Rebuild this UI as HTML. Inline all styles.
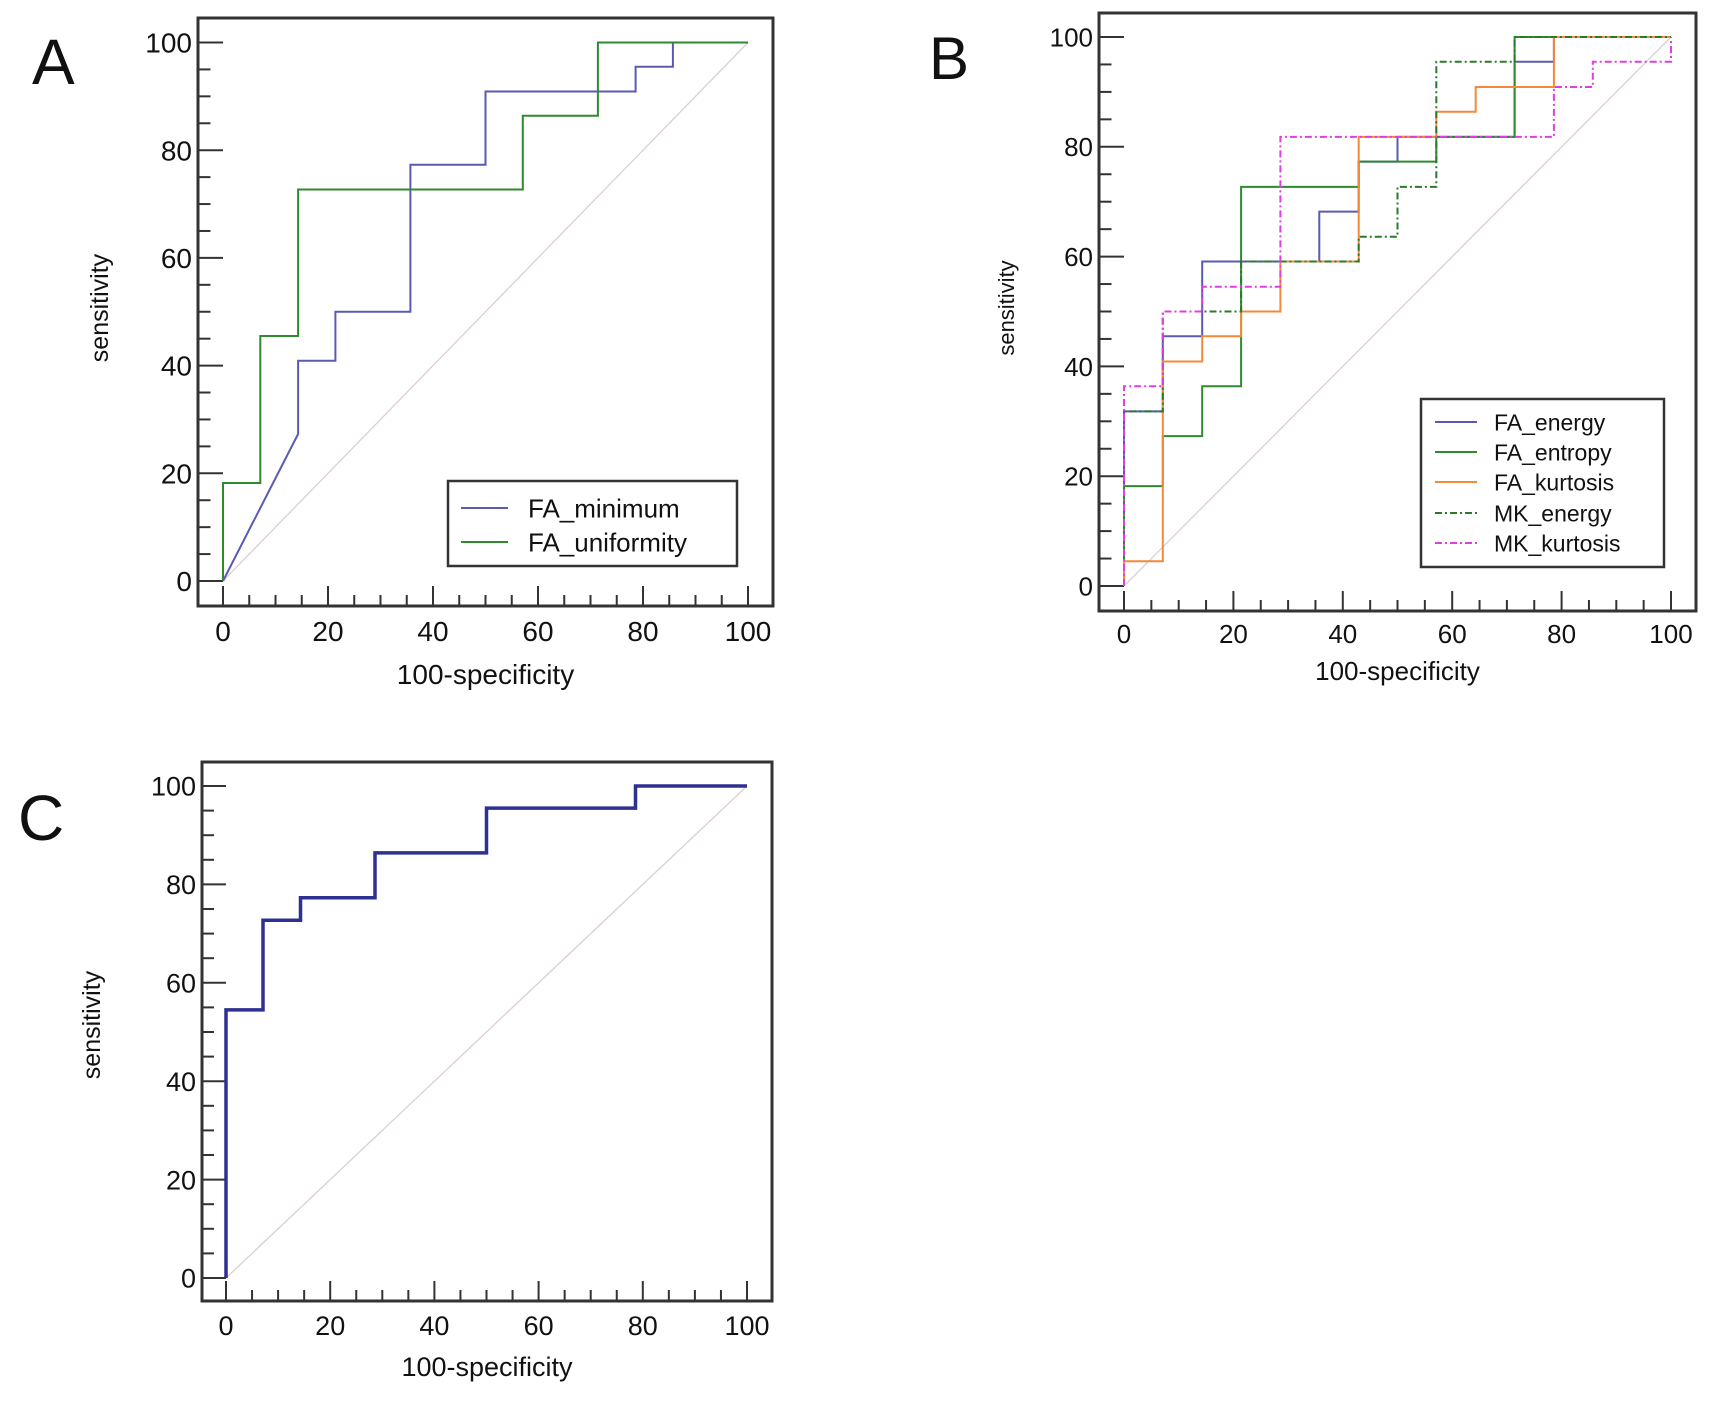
<!DOCTYPE html>
<html><head><meta charset="utf-8">
<style>
html,body{margin:0;padding:0;background:#fff;}
svg{display:block;}
text{font-family:"Liberation Sans",Arial,sans-serif;fill:#111;}
</style></head>
<body>
<svg id="fig" width="1726" height="1403" viewBox="0 0 1726 1403"></svg>
<script>
// ---------- data ----------
const xTickLabels = [0,20,40,60,80,100];
const yTickLabels = [0,20,40,60,80,100];
// Panel A
const aMinX = [0,14.3,14.3,21.4,21.4,35.7,35.7,50,50,78.6,78.6,85.7,85.7,100];
const aMinY = [0,27.3,40.9,40.9,50,50,77.3,77.3,90.9,90.9,95.5,95.5,100,100];
const aUniX = [0,0,7.1,7.1,14.3,14.3,57.1,57.1,71.4,71.4,100];
const aUniY = [0,18.2,18.2,45.5,45.5,72.7,72.7,86.4,86.4,100,100];
// Panel B
const bEnX = [0,0,7.1,7.1,14.3,14.3,35.7,35.7,42.9,42.9,50,50,71.4,71.4,78.6,78.6,100];
const bEnY = [0,31.8,31.8,45.5,45.5,59.1,59.1,68.2,68.2,77.3,77.3,81.8,81.8,95.5,95.5,100,100];
const bEtX = [0,0,7.1,7.1,14.3,14.3,21.4,21.4,42.9,42.9,57.1,57.1,71.4,71.4,100];
const bEtY = [0,18.2,18.2,27.3,27.3,36.4,36.4,72.7,72.7,77.3,77.3,81.8,81.8,100,100];
const bKuX = [0,0,7.1,7.1,14.3,14.3,21.4,21.4,28.6,28.6,42.9,42.9,57.1,57.1,64.3,64.3,78.6,78.6,100];
const bKuY = [0,4.5,4.5,40.9,40.9,45.5,45.5,50,50,59.1,59.1,81.8,81.8,86.4,86.4,90.9,90.9,100,100];
const bMEX = [0,0,7.1,7.1,21.4,21.4,42.9,42.9,50,50,57.1,57.1,71.4,71.4,100];
const bMEY = [0,31.8,31.8,50,50,59.1,59.1,63.6,63.6,72.7,72.7,95.5,95.5,100,100];
const bMKX = [0,0,7.1,7.1,14.3,14.3,28.6,28.6,78.6,78.6,85.7,85.7,100,100];
const bMKY = [0,36.4,36.4,50,50,54.5,54.5,81.8,81.8,90.9,90.9,95.5,95.5,100];
// Panel C
const cX = [0,0,7.1,7.1,14.3,14.3,28.6,28.6,50,50,78.6,78.6,100];
const cY = [0,54.5,54.5,72.7,72.7,77.3,77.3,86.4,86.4,95.5,95.5,100,100];

// ---------- drawing ----------
const NS='http://www.w3.org/2000/svg';
const svg=document.getElementById('fig');
function mk(tag,attrs,parent){const e=document.createElementNS(NS,tag);for(const k in attrs)e.setAttribute(k,attrs[k]);(parent||svg).appendChild(e);return e;}

function panel(p){
  const g=mk('g',{});
  
  
  const sx=v=>p.x0+(p.x100-p.x0)*v/100;
  const sy=v=>p.y0+(p.y100-p.y0)*v/100;
  const L=mk('text',{x:p.lx,y:p.ly,'font-size':p.lfs},g);L.textContent=p.letter;
  
  
  const d=mk('line',{x1:sx(0),y1:sy(0),x2:sx(100),y2:sy(100),stroke:'#dccfd2','stroke-width':1.3},g);
  
  
  for(let v=0;v<=100;v+=5){
    const maj=v%20===0;
    const yy=sy(v);
    const t=mk('line',{x1:p.fl,y1:yy,x2:p.fl+(maj?(p.x0-p.fl):(p.x0-p.fl)*0.5),y2:yy,stroke:'#333','stroke-width':2},g);
    
    
    const xx=sx(v);
    const t2=mk('line',{x1:xx,y1:p.fb,x2:xx,y2:p.fb-(maj?p.tl:p.tl*0.55),stroke:'#333','stroke-width':2},g);
    
    
  }
  yTickLabels.forEach(v=>{
    const t=mk('text',{x:p.fl-6,y:sy(v)+p.tfs*0.36,'font-size':p.tfs,'text-anchor':'end'},g);t.textContent=v;
    
    
  });
  xTickLabels.forEach(v=>{
    const t=mk('text',{x:sx(v),y:p.xly,'font-size':p.tfs,'text-anchor':'middle'},g);t.textContent=v;
    
    
  });
  const xt=mk('text',{x:(p.fl+p.fr)/2,y:p.xty,'font-size':p.tfs,'text-anchor':'middle'},g);xt.textContent='100-specificity';
  
  
  const yt=mk('text',{x:0,y:0,'font-size':p.yfs,'text-anchor':'middle',transform:`translate(${p.ytx},${p.yty}) rotate(-90)`},g);yt.textContent='sensitivity';
  
  
  p.series.forEach(s=>{
    const pts=s.xs.map((x,i)=>sx(x).toFixed(1)+','+sy(s.ys[i]).toFixed(1)).join(' ');
    const a={points:pts,fill:'none',stroke:s.color,'stroke-width':s.w||2};
    if(s.dash)a['stroke-dasharray']=s.dash;
    const pl=mk('polyline',a,g);
    
    
  });
  const fr=mk('rect',{x:p.fl,y:p.ft,width:p.fr-p.fl,height:p.fb-p.ft,fill:'none',stroke:'#333','stroke-width':3},g);
  
  
  if(p.legend){
    const lg=p.legend;
    const lgG=mk('g',{},g);
    
    
    mk('rect',{x:lg.x,y:lg.y,width:lg.w,height:lg.h,fill:'#fff',stroke:'#333','stroke-width':2.5},lgG);
    p.series.forEach((s,i)=>{
      const yy=lg.ry[i];
      const a={x1:lg.lx1,y1:yy,x2:lg.lx2,y2:yy,stroke:s.color,'stroke-width':2};
      if(s.dash)a['stroke-dasharray']=s.dash;
      mk('line',a,lgG);
      const t=mk('text',{x:lg.tx,y:yy+lg.fs*0.36,'font-size':lg.fs},lgG);t.textContent=s.id;
      
      
    });
  }
}

panel({name:'panel-a',letter:'A',lx:32,ly:84,lfs:64,
  fl:198,fr:773,ft:18,fb:606,x0:223,x100:748,y0:581,y100:42.5,tl:20,
  tfs:28,xly:641,xty:684,yfs:25,ytx:108,yty:308,
  series:[{id:'FA_minimum',xs:aMinX,ys:aMinY,color:'#5a5ab4'},
          {id:'FA_uniformity',xs:aUniX,ys:aUniY,color:'#2f8a2f'}],
  legend:{x:448,y:481,w:289,h:85,lx1:461,lx2:508,tx:528,ry:[508,542],fs:26}});

panel({name:'panel-b',letter:'B',lx:929,ly:79,lfs:60,
  fl:1099,fr:1696,ft:13,fb:611,x0:1124,x100:1671,y0:586,y100:37,tl:20,
  tfs:26,xly:643,xty:680,yfs:22,ytx:1014,yty:308,
  series:[{id:'FA_energy',xs:bEnX,ys:bEnY,color:'#5a5ab4'},
          {id:'FA_entropy',xs:bEtX,ys:bEtY,color:'#2f8a2f'},
          {id:'FA_kurtosis',xs:bKuX,ys:bKuY,color:'#f5893a'},
          {id:'MK_energy',xs:bMEX,ys:bMEY,color:'#2b7a2b',dash:'7,3,2,3'},
          {id:'MK_kurtosis',xs:bMKX,ys:bMKY,color:'#e03ee0',dash:'7,3,2,3'}],
  legend:{x:1421,y:399,w:243,h:168,lx1:1435,lx2:1477,tx:1494,ry:[422,452,482,513,543],fs:23}});

panel({name:'panel-c',letter:'C',lx:18,ly:840,lfs:64,
  fl:202,fr:772,ft:762,fb:1301,x0:226,x100:747,y0:1278,y100:786,tl:20,
  tfs:27,xly:1335,xty:1376,yfs:25,ytx:100,yty:1025,
  series:[{id:'roc-curve-c',xs:cX,ys:cY,color:'#2e3192',w:3.5}],
  legend:null});
</script>
</body></html>
